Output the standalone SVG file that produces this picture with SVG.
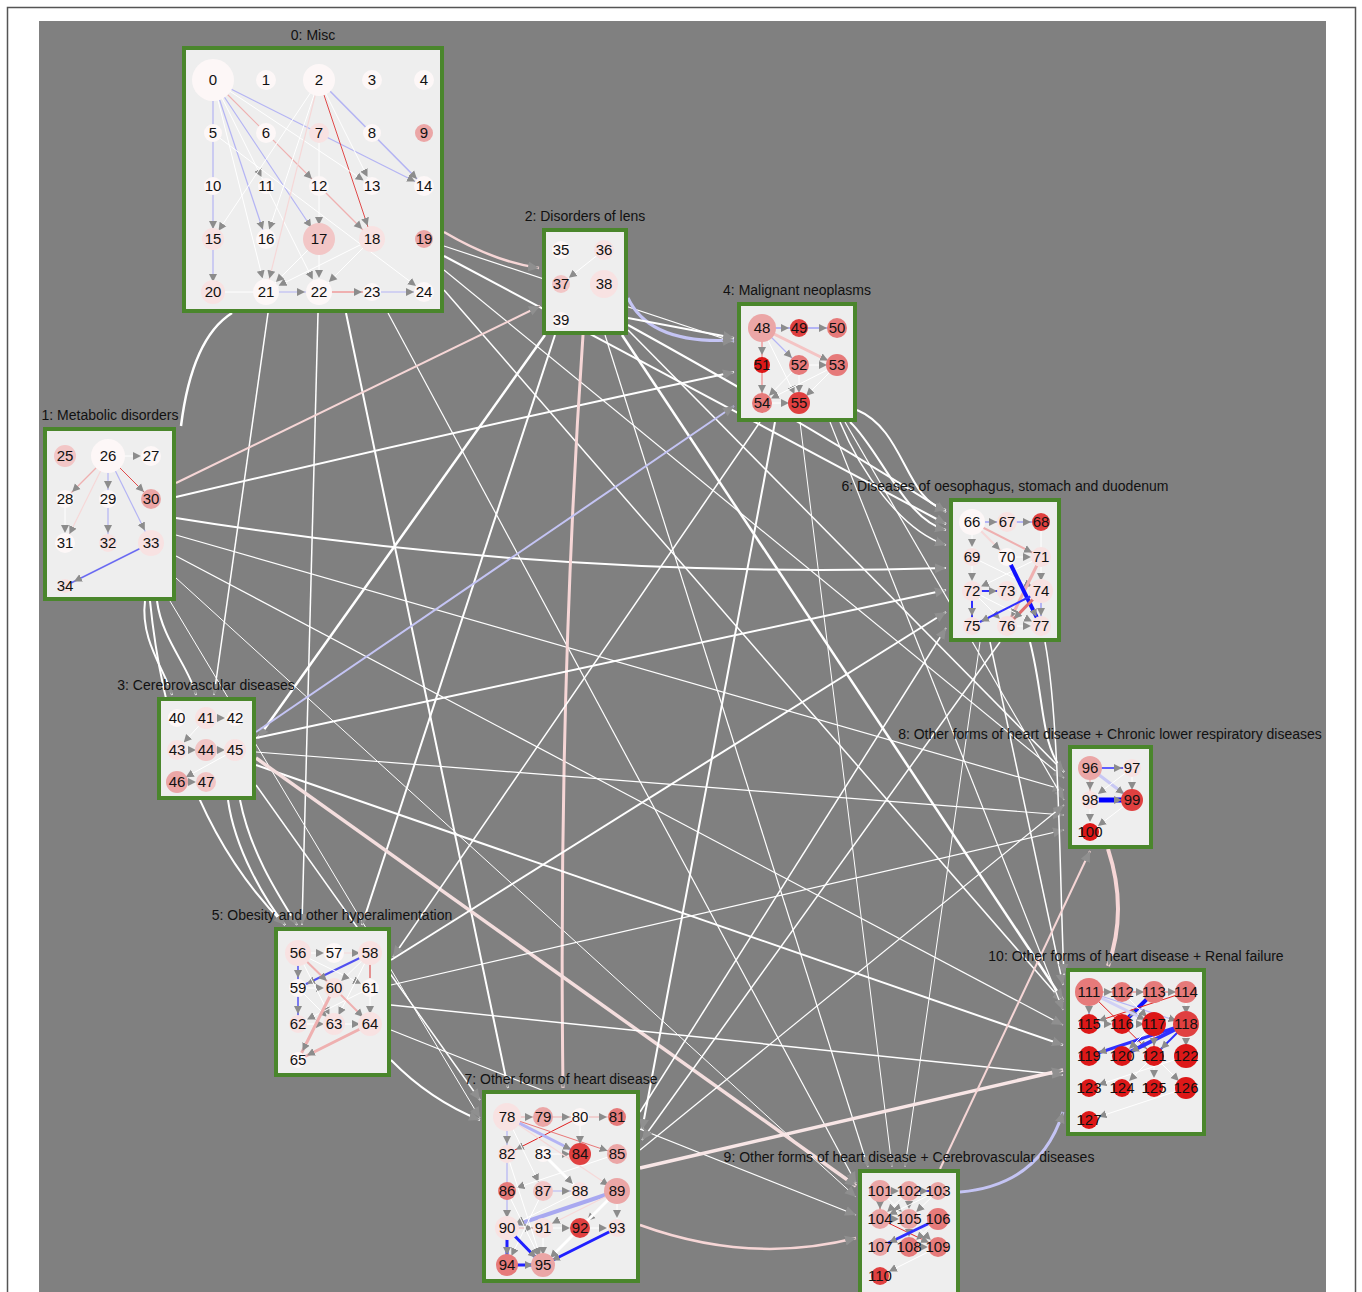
<svg xmlns="http://www.w3.org/2000/svg" width="1362" height="1292" viewBox="0 0 1362 1292">
<style>
text{font-family:"Liberation Sans",Arial,sans-serif;fill:#111}
.nt text{font-size:15px;text-anchor:middle}
.lbl{font-size:14px;text-anchor:middle}
.box{fill:#eeeeee;stroke:#4a862c;stroke-width:4}
.c0{fill:#fdf7f7}.c1{fill:#f8e2e2}.c2{fill:#f2c6c6}.c3{fill:#eba6a6}.c4{fill:#e67a7a}.c5{fill:#e04040}.c6{fill:#dd1818}
.w{stroke:#ffffff;stroke-width:1;fill:none}
.lv{stroke:#b4b4f4;stroke-width:1.2;fill:none}
.pk{stroke:#efb0b0;stroke-width:1.2;fill:none}
.pl{stroke:#f6d8d8;stroke-width:1.2;fill:none}
.rd{stroke:#e04a4a;stroke-width:1;fill:none}
.bl{stroke:#3030ff;stroke-width:2;fill:none}
.e{marker-end:url(#a)}
.e2{marker-end:url(#a2)}
.x{stroke:#ffffff;stroke-width:1.5;fill:none;marker-end:url(#b)}
.xp{stroke:#f6d6d6;stroke-width:2.5;fill:none;marker-end:url(#b)}
.xl{stroke:#c4c4f4;stroke-width:2.5;fill:none;marker-end:url(#b)}
</style>
<defs>
<marker id="a" markerUnits="userSpaceOnUse" markerWidth="30" markerHeight="10" viewBox="0 0 30 10" refX="18" refY="5" orient="auto"><path d="M0,1 L8,5 L0,9 z" fill="#8c8c8c"/></marker>
<marker id="a2" markerUnits="userSpaceOnUse" markerWidth="30" markerHeight="10" viewBox="0 0 30 10" refX="22" refY="5" orient="auto"><path d="M0,1 L8,5 L0,9 z" fill="#8c8c8c"/></marker>
<marker id="b" markerUnits="userSpaceOnUse" markerWidth="12" markerHeight="12" viewBox="0 0 12 12" refX="11" refY="6" orient="auto"><path d="M0,1 L11,6 L0,11 z" fill="#8f8f8f"/></marker>
</defs>
<rect x="0" y="0" width="1362" height="1292" fill="#ffffff"/>
<path d="M7.5,1292 V7.5 H1355.5 V1292" fill="none" stroke="#555" stroke-width="1.5"/>
<rect x="39" y="21" width="1287" height="1271" fill="#808080"/>

<g id="connectors">
<path class="xp" d="M444,232 Q495,262 539,268"/>
<path class="x" style="stroke-width:1.2" d="M444,246 L734,342"/>
<path class="x" style="stroke-width:2" d="M444,256 L946,524"/>
<path class="x" style="stroke-width:1.2" d="M444,270 L1064,778"/>
<path class="x" d="M444,290 L1063,1002"/>
<path d="M232,313 C205,330 188,370 181,426" fill="none" stroke="#fff" stroke-width="2.5"/>
<path class="x" d="M268,313 L214,695"/>
<path class="x" d="M318,313 L302,925"/>
<path class="x" style="stroke-width:2" d="M346,313 L508,1088"/>
<path class="x" style="stroke-width:1.2" d="M388,313 L856,1183"/>
<path class="xp" style="stroke-width:2" d="M176,483 L540,306"/>
<path class="x" style="stroke-width:2" d="M176,497 Q460,430 734,372"/>
<path class="x" style="stroke-width:2" d="M176,518 Q560,580 946,568"/>
<path class="x" style="stroke-width:1.2" d="M176,535 L1064,790"/>
<path class="x" style="stroke-width:1.2" d="M176,556 L1063,1025"/>
<path class="x" style="stroke-width:2" d="M145,601 C140,640 165,670 172,695"/>
<path class="x" style="stroke-width:2" d="M157,601 C162,640 190,668 196,695"/>
<path class="x" style="stroke-width:2" d="M150,601 C170,800 250,890 285,925"/>
<path class="x" style="stroke-width:1" d="M176,578 L856,1197"/>
<path class="x" style="stroke-width:1" d="M170,601 L480,1118"/>
<path class="xp" style="stroke-width:3" d="M583,335 Q558,700 563,1088"/>
<path class="xl" style="stroke-width:3" d="M628,298 Q650,345 734,340"/>
<path class="x" style="stroke-width:2" d="M628,318 L734,338"/>
<path class="x" style="stroke-width:2.5" d="M545,335 L258,738"/>
<path class="x" style="stroke-width:2" d="M555,335 L362,925"/>
<path class="x" style="stroke-width:2" d="M628,325 Q800,420 946,512"/>
<path class="x" d="M628,330 L1064,772"/>
<path class="x" style="stroke-width:2.5" d="M622,335 L1063,1000"/>
<path class="x" style="stroke-width:1.2" d="M605,335 L868,1167"/>
<path class="xl" style="stroke-width:2" d="M256,732 L734,406"/>
<path class="x" style="stroke-width:2" d="M256,738 L946,590"/>
<path class="x" style="stroke-width:1.2" d="M256,752 L1064,815"/>
<path class="x" style="stroke-width:2" d="M256,765 L1063,1045"/>
<path class="xp" style="stroke-width:3.5;stroke:#f4dede" d="M256,758 L856,1186"/>
<path class="x" style="stroke-width:2" d="M228,800 C235,850 265,900 285,925"/>
<path class="x" style="stroke-width:2" d="M240,800 C250,850 275,890 297,925"/>
<path class="x" d="M256,785 L480,1100"/>
<path class="x" style="stroke-width:2" d="M775,422 L642,1130"/>
<path class="x" d="M760,422 L393,957"/>
<path class="x" style="stroke-width:1" d="M800,422 L892,1167"/>
<path class="x" style="stroke-width:1.2" d="M830,422 L1063,1010"/>
<path class="x" style="stroke-width:1.2" d="M845,422 L1064,800"/>
<path class="x" style="stroke-width:2" d="M857,410 C905,430 905,500 946,510"/>
<path class="x" style="stroke-width:2" d="M850,422 C880,450 905,520 946,530"/>
<path class="x" d="M840,422 C860,470 900,530 946,545"/>
<path class="x" style="stroke-width:2" d="M391,960 L946,612"/>
<path class="x" style="stroke-width:1.2" d="M391,985 L1064,830"/>
<path class="x" d="M391,1005 L1063,1075"/>
<path class="x" style="stroke-width:1.2" d="M391,1030 L856,1215"/>
<path class="x" style="stroke-width:2" d="M391,1060 Q430,1100 480,1120"/>
<path class="x" d="M990,642 L1063,985"/>
<path class="x" d="M1000,642 L642,1140"/>
<path class="x" style="stroke-width:2" d="M1030,642 C1045,700 1040,745 1064,772"/>
<path class="x" d="M1045,642 C1060,720 1060,900 1064,975"/>
<path class="x" style="stroke-width:1" d="M980,642 L905,1167"/>
<path class="xp" style="stroke-width:3.5;stroke:#f8e6e6" d="M640,1168 L1063,1070"/>
<path class="xp" d="M640,1225 Q750,1265 856,1238"/>
<path class="x" d="M640,1112 L946,628"/>
<path class="x" style="stroke-width:1.2" d="M640,1150 L1064,805"/>
<path class="xp" style="stroke-width:4" d="M1108,849 Q1128,910 1108,966"/>
<path class="xp" style="stroke-width:2" d="M940,1169 L1090,851"/>
<path class="xl" style="stroke-width:3" d="M960,1192 Q1040,1185 1063,1112"/>
</g>

<g id="cluster-0">
<text class="lbl" x="313" y="40">0: Misc</text>
<rect class="box" x="184" y="48" width="258" height="263"/>
<line class="lv e" x1="213" y1="80" x2="213" y2="239"/>
<line class="lv e" x1="213" y1="239" x2="213" y2="292"/>
<line class="lv e" x1="213" y1="80" x2="424" y2="186"/>
<line class="lv e" style="stroke-width:1.6" x1="319" y1="80" x2="424" y2="186"/>
<line class="rd e2" x1="319" y1="80" x2="372" y2="239"/>
<line class="pk e" x1="213" y1="80" x2="319" y2="186"/>
<line class="lv e" x1="213" y1="80" x2="266" y2="239"/>
<line class="lv e2" x1="213" y1="80" x2="319" y2="239"/>
<line class="w e" x1="213" y1="80" x2="372" y2="186"/>
<line class="w e2" x1="213" y1="80" x2="266" y2="292"/>
<line class="w e" x1="213" y1="80" x2="266" y2="186"/>
<line class="w e" x1="213" y1="133" x2="424" y2="292"/>
<line class="w e2" x1="266" y1="186" x2="319" y2="292"/>
<line class="w e" x1="319" y1="80" x2="213" y2="239"/>
<line class="w e" x1="319" y1="80" x2="266" y2="239"/>
<line class="pl e2" x1="319" y1="80" x2="266" y2="292"/>
<line class="w e" x1="319" y1="80" x2="372" y2="186"/>
<line class="w e2" x1="319" y1="133" x2="319" y2="239"/>
<line class="pk e2" x1="319" y1="186" x2="372" y2="239"/>
<line class="w e2" x1="319" y1="239" x2="266" y2="292"/>
<line class="w e2" x1="319" y1="239" x2="319" y2="292"/>
<line class="w e2" x1="372" y1="239" x2="266" y2="292"/>
<line class="w e2" x1="372" y1="239" x2="319" y2="292"/>
<line class="w" x1="213" y1="292" x2="266" y2="292"/>
<line class="lv e2" x1="266" y1="292" x2="319" y2="292"/>
<line class="pk e" style="stroke-width:2" x1="319" y1="292" x2="372" y2="292"/>
<line class="lv e" x1="372" y1="292" x2="424" y2="292"/>
<g class="nt">
<g id="n0"><circle class="c0" cx="213" cy="80" r="21"/><text x="213" y="85">0</text></g>
<g id="n1"><circle class="c0" cx="266" cy="80" r="10"/><text x="266" y="85">1</text></g>
<g id="n2"><circle class="c0" cx="319" cy="80" r="16"/><text x="319" y="85">2</text></g>
<g id="n3"><circle class="c0" cx="372" cy="80" r="10"/><text x="372" y="85">3</text></g>
<g id="n4"><circle class="c0" cx="424" cy="80" r="10"/><text x="424" y="85">4</text></g>
<g id="n5"><circle class="c0" cx="213" cy="133" r="9"/><text x="213" y="138">5</text></g>
<g id="n6"><circle class="c0" cx="266" cy="133" r="10"/><text x="266" y="138">6</text></g>
<g id="n7"><circle class="c1" cx="319" cy="133" r="10"/><text x="319" y="138">7</text></g>
<g id="n8"><circle class="c0" cx="372" cy="133" r="9"/><text x="372" y="138">8</text></g>
<g id="n9"><circle class="c3" cx="424" cy="133" r="9"/><text x="424" y="138">9</text></g>
<g id="n10"><circle class="c0" cx="213" cy="186" r="9"/><text x="213" y="191">10</text></g>
<g id="n11"><circle class="c0" cx="266" cy="186" r="8"/><text x="266" y="191">11</text></g>
<g id="n12"><circle class="c0" cx="319" cy="186" r="10"/><text x="319" y="191">12</text></g>
<g id="n13"><circle class="c0" cx="372" cy="186" r="9"/><text x="372" y="191">13</text></g>
<g id="n14"><circle class="c0" cx="424" cy="186" r="10"/><text x="424" y="191">14</text></g>
<g id="n15"><circle class="c1" cx="213" cy="239" r="11"/><text x="213" y="244">15</text></g>
<g id="n16"><circle class="c0" cx="266" cy="239" r="10"/><text x="266" y="244">16</text></g>
<g id="n17"><circle class="c2" cx="319" cy="239" r="16"/><text x="319" y="244">17</text></g>
<g id="n18"><circle class="c1" cx="372" cy="239" r="13"/><text x="372" y="244">18</text></g>
<g id="n19"><circle class="c3" cx="424" cy="239" r="9"/><text x="424" y="244">19</text></g>
<g id="n20"><circle class="c1" cx="213" cy="292" r="12"/><text x="213" y="297">20</text></g>
<g id="n21"><circle class="c0" cx="266" cy="292" r="13"/><text x="266" y="297">21</text></g>
<g id="n22"><circle class="c0" cx="319" cy="292" r="13"/><text x="319" y="297">22</text></g>
<g id="n23"><circle class="c0" cx="372" cy="292" r="9"/><text x="372" y="297">23</text></g>
<g id="n24"><circle class="c0" cx="424" cy="292" r="10"/><text x="424" y="297">24</text></g>
</g>
</g>

<g id="cluster-1">
<text class="lbl" x="110" y="420">1: Metabolic disorders</text>
<rect class="box" x="45" y="429" width="129" height="170"/>
<line class="w e" x1="108" y1="456" x2="151" y2="456"/>
<line class="pk e" x1="108" y1="456" x2="65" y2="499"/>
<line class="lv e" x1="108" y1="456" x2="108" y2="499"/>
<line class="rd e" x1="108" y1="456" x2="151" y2="499"/>
<line class="pl e" x1="108" y1="456" x2="65" y2="543"/>
<line class="lv e2" x1="108" y1="456" x2="151" y2="543"/>
<line class="w e" x1="65" y1="499" x2="65" y2="543"/>
<line class="lv e" x1="108" y1="499" x2="108" y2="543"/>
<line class="bl e" style="stroke:#6a6af2;stroke-width:1.5" x1="151" y1="543" x2="65" y2="586"/>
<g class="nt">
<g id="n25"><circle class="c2" cx="65" cy="456" r="11"/><text x="65" y="461">25</text></g>
<g id="n26"><circle class="c0" cx="108" cy="456" r="17"/><text x="108" y="461">26</text></g>
<g id="n27"><circle class="c0" cx="151" cy="456" r="10"/><text x="151" y="461">27</text></g>
<g id="n28"><circle class="c0" cx="65" cy="499" r="9"/><text x="65" y="504">28</text></g>
<g id="n29"><circle class="c0" cx="108" cy="499" r="9"/><text x="108" y="504">29</text></g>
<g id="n30"><circle class="c3" cx="151" cy="499" r="10"/><text x="151" y="504">30</text></g>
<g id="n31"><circle class="c0" cx="65" cy="543" r="10"/><text x="65" y="548">31</text></g>
<g id="n32"><circle class="c1" cx="108" cy="543" r="9"/><text x="108" y="548">32</text></g>
<g id="n33"><circle class="c1" cx="151" cy="543" r="13"/><text x="151" y="548">33</text></g>
<g id="n34"><circle class="c1" cx="65" cy="586" r="7"/><text x="65" y="591">34</text></g>
</g>
</g>

<g id="cluster-2">
<text class="lbl" x="585" y="221">2: Disorders of lens</text>
<rect class="box" x="544" y="230" width="82" height="103"/>
<line class="w e" x1="604" y1="250" x2="561" y2="284"/>
<g class="nt">
<g id="n35"><circle class="c0" cx="561" cy="250" r="9"/><text x="561" y="255">35</text></g>
<g id="n36"><circle class="c1" cx="604" cy="250" r="10"/><text x="604" y="255">36</text></g>
<g id="n37"><circle class="c2" cx="561" cy="284" r="9"/><text x="561" y="289">37</text></g>
<g id="n38"><circle class="c1" cx="604" cy="284" r="14"/><text x="604" y="289">38</text></g>
<g id="n39"><circle class="c0" cx="561" cy="320" r="8"/><text x="561" y="325">39</text></g>
</g>
</g>

<g id="cluster-3">
<text class="lbl" x="206" y="690">3: Cerebrovascular diseases</text>
<rect class="box" x="159" y="699" width="95" height="99"/>
<line class="w e" x1="206" y1="718" x2="235" y2="718"/>
<line class="w e" x1="206" y1="718" x2="177" y2="750"/>
<line class="w e" x1="177" y1="750" x2="206" y2="750"/>
<line class="w e" x1="206" y1="750" x2="235" y2="750"/>
<line class="w e" x1="235" y1="750" x2="177" y2="782"/>
<line class="w e" x1="177" y1="782" x2="206" y2="782"/>
<g class="nt">
<g id="n40"><circle class="c0" cx="177" cy="718" r="9"/><text x="177" y="723">40</text></g>
<g id="n41"><circle class="c1" cx="206" cy="718" r="11"/><text x="206" y="723">41</text></g>
<g id="n42"><circle class="c0" cx="235" cy="718" r="8"/><text x="235" y="723">42</text></g>
<g id="n43"><circle class="c1" cx="177" cy="750" r="10"/><text x="177" y="755">43</text></g>
<g id="n44"><circle class="c2" cx="206" cy="750" r="11"/><text x="206" y="755">44</text></g>
<g id="n45"><circle class="c1" cx="235" cy="750" r="11"/><text x="235" y="755">45</text></g>
<g id="n46"><circle class="c3" cx="177" cy="782" r="11"/><text x="177" y="787">46</text></g>
<g id="n47"><circle class="c2" cx="206" cy="782" r="10"/><text x="206" y="787">47</text></g>
</g>
</g>

<g id="cluster-4">
<text class="lbl" x="797" y="295">4: Malignant neoplasms</text>
<rect class="box" x="739" y="304" width="116" height="116"/>
<line class="lv e" style="stroke-width:2" x1="762" y1="328" x2="799" y2="328"/>
<line class="lv e" style="stroke-width:2" x1="799" y1="328" x2="837" y2="328"/>
<line class="pk e" style="stroke-width:2" x1="762" y1="328" x2="762" y2="365"/>
<line class="lv e" x1="762" y1="328" x2="799" y2="365"/>
<line class="pk e" style="stroke-width:3;stroke:#f4c4c4" x1="762" y1="328" x2="837" y2="365"/>
<line class="pk e" style="stroke-width:2" x1="762" y1="365" x2="762" y2="403"/>
<line class="w e" x1="799" y1="365" x2="837" y2="365"/>
<line class="w e" x1="762" y1="328" x2="799" y2="403"/>
<line class="w e" x1="799" y1="365" x2="799" y2="403"/>
<line class="w e" x1="837" y1="365" x2="799" y2="403"/>
<line class="w e" x1="837" y1="365" x2="762" y2="403"/>
<line class="w e" x1="799" y1="365" x2="762" y2="403"/>
<line class="w e" x1="762" y1="403" x2="799" y2="403"/>
<g class="nt">
<g id="n48"><circle class="c3" cx="762" cy="328" r="14"/><text x="762" y="333">48</text></g>
<g id="n49"><circle class="c5" cx="799" cy="328" r="9"/><text x="799" y="333">49</text></g>
<g id="n50"><circle class="c4" cx="837" cy="328" r="10"/><text x="837" y="333">50</text></g>
<g id="n51"><circle class="c6" cx="762" cy="365" r="8"/><text x="762" y="370">51</text></g>
<g id="n52"><circle class="c4" cx="799" cy="365" r="10"/><text x="799" y="370">52</text></g>
<g id="n53"><circle class="c4" cx="837" cy="365" r="11"/><text x="837" y="370">53</text></g>
<g id="n54"><circle class="c4" cx="762" cy="403" r="10"/><text x="762" y="408">54</text></g>
<g id="n55"><circle class="c5" cx="799" cy="403" r="11"/><text x="799" y="408">55</text></g>
</g>
</g>

<g id="cluster-5">
<text class="lbl" x="332" y="920">5: Obesity and other hyperalimentation</text>
<rect class="box" x="276" y="929" width="113" height="146"/>
<line class="w e" x1="298" y1="953" x2="334" y2="953"/>
<line class="pl e" x1="334" y1="953" x2="370" y2="953"/>
<line class="bl e" style="stroke:#5050f0;stroke-width:1.5" x1="298" y1="953" x2="298" y2="988"/>
<line class="bl e" style="stroke:#5050f0;stroke-width:2" x1="370" y1="953" x2="298" y2="988"/>
<line class="pk e" style="stroke-width:2" x1="298" y1="953" x2="334" y2="988"/>
<line class="w e" x1="298" y1="953" x2="370" y2="988"/>
<line class="w e" x1="370" y1="953" x2="334" y2="988"/>
<line class="rd" style="stroke:#e07070;stroke-width:1.5" x1="370" y1="953" x2="370" y2="978"/>
<line class="w e" x1="298" y1="988" x2="334" y2="988"/>
<line class="bl e" style="stroke:#5050f0;stroke-width:1.5" x1="298" y1="988" x2="298" y2="1024"/>
<line class="w e" x1="298" y1="953" x2="334" y2="1024"/>
<line class="w e" x1="370" y1="953" x2="334" y2="1024"/>
<line class="w e" x1="298" y1="988" x2="334" y2="1024"/>
<line class="w e" x1="370" y1="988" x2="298" y2="1024"/>
<line class="w e" x1="370" y1="988" x2="370" y2="1024"/>
<line class="w e" x1="298" y1="1024" x2="334" y2="1024"/>
<line class="w e" x1="334" y1="1024" x2="370" y2="1024"/>
<line class="pk e" style="stroke-width:2" x1="334" y1="988" x2="370" y2="1024"/>
<line class="pk e" style="stroke-width:3" x1="334" y1="988" x2="298" y2="1060"/>
<line class="pk e" style="stroke-width:3" x1="370" y1="1024" x2="298" y2="1060"/>
<g class="nt">
<g id="n56"><circle class="c1" cx="298" cy="953" r="13"/><text x="298" y="958">56</text></g>
<g id="n57"><circle class="c0" cx="334" cy="953" r="10"/><text x="334" y="958">57</text></g>
<g id="n58"><circle class="c1" cx="370" cy="953" r="12"/><text x="370" y="958">58</text></g>
<g id="n59"><circle class="c0" cx="298" cy="988" r="9"/><text x="298" y="993">59</text></g>
<g id="n60"><circle class="c1" cx="334" cy="988" r="10"/><text x="334" y="993">60</text></g>
<g id="n61"><circle class="c0" cx="370" cy="988" r="9"/><text x="370" y="993">61</text></g>
<g id="n62"><circle class="c1" cx="298" cy="1024" r="9"/><text x="298" y="1029">62</text></g>
<g id="n63"><circle class="c1" cx="334" cy="1024" r="11"/><text x="334" y="1029">63</text></g>
<g id="n64"><circle class="c1" cx="370" cy="1024" r="12"/><text x="370" y="1029">64</text></g>
<g id="n65"><circle class="c0" cx="298" cy="1060" r="8"/><text x="298" y="1065">65</text></g>
</g>
</g>

<g id="cluster-6">
<text class="lbl" x="1005" y="491">6: Diseases of oesophagus, stomach and duodenum</text>
<rect class="box" x="951" y="500" width="108" height="140"/>
<line class="lv e" style="stroke-width:2" x1="972" y1="522" x2="1007" y2="522"/>
<line class="lv e" style="stroke-width:2" x1="1007" y1="522" x2="1041" y2="522"/>
<line class="w e" x1="972" y1="522" x2="972" y2="557"/>
<line class="pl e" style="stroke-width:2" x1="972" y1="522" x2="1007" y2="557"/>
<line class="pk e" style="stroke-width:2" x1="972" y1="522" x2="1041" y2="557"/>
<line class="w" x1="1041" y1="522" x2="1041" y2="557"/>
<line class="w e" x1="1007" y1="557" x2="1041" y2="557"/>
<line class="w e" x1="972" y1="557" x2="972" y2="591"/>
<line class="w e" x1="972" y1="557" x2="1041" y2="591"/>
<line class="w e" x1="1041" y1="557" x2="972" y2="591"/>
<line class="w e" x1="1041" y1="557" x2="1041" y2="591"/>
<line class="pk e" style="stroke-width:3" x1="1041" y1="557" x2="1007" y2="626"/>
<line class="w e" x1="972" y1="591" x2="1007" y2="626"/>
<line class="w e" x1="972" y1="591" x2="1041" y2="626"/>
<line class="bl e" style="stroke-width:4;stroke:#1010ff" x1="1007" y1="557" x2="1041" y2="626"/>
<line class="bl e" x1="972" y1="591" x2="1007" y2="591"/>
<line class="bl e" x1="972" y1="591" x2="972" y2="626"/>
<line class="bl e" x1="1041" y1="591" x2="972" y2="626"/>
<line class="rd e" style="stroke-width:3;stroke:#e07070" x1="1041" y1="591" x2="1007" y2="626"/>
<line class="lv e" style="stroke-width:2" x1="1041" y1="591" x2="1041" y2="626"/>
<line class="w e" x1="1007" y1="626" x2="1041" y2="626"/>
<g class="nt">
<g id="n66"><circle class="c0" cx="972" cy="522" r="13"/><text x="972" y="527">66</text></g>
<g id="n67"><circle class="c1" cx="1007" cy="522" r="10"/><text x="1007" y="527">67</text></g>
<g id="n68"><circle class="c5" cx="1041" cy="522" r="9"/><text x="1041" y="527">68</text></g>
<g id="n69"><circle class="c1" cx="972" cy="557" r="9"/><text x="972" y="562">69</text></g>
<g id="n70"><circle class="c0" cx="1007" cy="557" r="9"/><text x="1007" y="562">70</text></g>
<g id="n71"><circle class="c1" cx="1041" cy="557" r="10"/><text x="1041" y="562">71</text></g>
<g id="n72"><circle class="c1" cx="972" cy="591" r="10"/><text x="972" y="596">72</text></g>
<g id="n73"><circle class="c1" cx="1007" cy="591" r="10"/><text x="1007" y="596">73</text></g>
<g id="n74"><circle class="c1" cx="1041" cy="591" r="12"/><text x="1041" y="596">74</text></g>
<g id="n75"><circle class="c1" cx="972" cy="626" r="9"/><text x="972" y="631">75</text></g>
<g id="n76"><circle class="c1" cx="1007" cy="626" r="10"/><text x="1007" y="631">76</text></g>
<g id="n77"><circle class="c1" cx="1041" cy="626" r="10"/><text x="1041" y="631">77</text></g>
</g>
</g>

<g id="cluster-7">
<text class="lbl" x="561" y="1084">7: Other forms of heart disease</text>
<rect class="box" x="484" y="1092" width="154" height="189"/>
<line class="pk e" x1="507" y1="1117" x2="543" y2="1117"/>
<line class="pk e" x1="543" y1="1117" x2="580" y2="1117"/>
<line class="pk e" x1="580" y1="1117" x2="617" y2="1117"/>
<line class="rd e" style="stroke:#e02020" x1="580" y1="1117" x2="507" y2="1154"/>
<line class="lv e" x1="507" y1="1117" x2="507" y2="1154"/>
<line class="lv e" style="stroke-width:3" x1="507" y1="1117" x2="580" y2="1154"/>
<line class="rd e" style="stroke:#e87878" x1="507" y1="1117" x2="617" y2="1154"/>
<line class="w e" x1="580" y1="1117" x2="580" y2="1154"/>
<line class="w e" x1="543" y1="1154" x2="580" y2="1154"/>
<line class="w e" style="stroke-width:3" x1="543" y1="1154" x2="580" y2="1191"/>
<line class="lv e" x1="543" y1="1191" x2="580" y2="1191"/>
<line class="w e" x1="507" y1="1117" x2="543" y2="1191"/>
<line class="w e" x1="617" y1="1154" x2="507" y2="1191"/>
<line class="pl e" x1="507" y1="1117" x2="617" y2="1191"/>
<line class="lv e" style="stroke-width:4;stroke:#a8a8f0" x1="617" y1="1191" x2="507" y2="1228"/>
<line class="lv e" x1="507" y1="1154" x2="507" y2="1228"/>
<line class="w e" x1="580" y1="1191" x2="507" y2="1228"/>
<line class="pk e" x1="507" y1="1228" x2="543" y2="1228"/>
<line class="pl e" x1="617" y1="1191" x2="543" y2="1228"/>
<line class="w e" x1="543" y1="1228" x2="580" y2="1228"/>
<line class="w e" x1="580" y1="1228" x2="617" y2="1228"/>
<line class="w e" x1="617" y1="1191" x2="617" y2="1228"/>
<line class="w e" x1="617" y1="1191" x2="580" y2="1228"/>
<line class="w e" x1="507" y1="1154" x2="543" y2="1265"/>
<line class="w e" x1="507" y1="1191" x2="543" y2="1265"/>
<line class="w e" x1="543" y1="1191" x2="507" y2="1265"/>
<line class="w e" x1="543" y1="1228" x2="543" y2="1265"/>
<line class="w e" style="stroke-width:3" x1="617" y1="1191" x2="543" y2="1265"/>
<line class="bl e" style="stroke-width:3;stroke:#2020ff" x1="507" y1="1228" x2="507" y2="1265"/>
<line class="bl e" style="stroke-width:3;stroke:#2020ff" x1="507" y1="1228" x2="543" y2="1265"/>
<line class="bl e" style="stroke-width:3;stroke:#2020ff" x1="507" y1="1265" x2="543" y2="1265"/>
<line class="bl e" style="stroke-width:3;stroke:#2020ff" x1="617" y1="1228" x2="543" y2="1265"/>
<g class="nt">
<g id="n78"><circle class="c1" cx="507" cy="1117" r="14"/><text x="507" y="1122">78</text></g>
<g id="n79"><circle class="c3" cx="543" cy="1117" r="10"/><text x="543" y="1122">79</text></g>
<g id="n80"><circle class="c0" cx="580" cy="1117" r="9"/><text x="580" y="1122">80</text></g>
<g id="n81"><circle class="c4" cx="617" cy="1117" r="9"/><text x="617" y="1122">81</text></g>
<g id="n82"><circle class="c1" cx="507" cy="1154" r="9"/><text x="507" y="1159">82</text></g>
<g id="n83"><circle class="c0" cx="543" cy="1154" r="8"/><text x="543" y="1159">83</text></g>
<g id="n84"><circle class="c5" cx="580" cy="1154" r="11"/><text x="580" y="1159">84</text></g>
<g id="n85"><circle class="c3" cx="617" cy="1154" r="10"/><text x="617" y="1159">85</text></g>
<g id="n86"><circle class="c4" cx="507" cy="1191" r="9"/><text x="507" y="1196">86</text></g>
<g id="n87"><circle class="c2" cx="543" cy="1191" r="10"/><text x="543" y="1196">87</text></g>
<g id="n88"><circle class="c1" cx="580" cy="1191" r="9"/><text x="580" y="1196">88</text></g>
<g id="n89"><circle class="c3" cx="617" cy="1191" r="13"/><text x="617" y="1196">89</text></g>
<g id="n90"><circle class="c1" cx="507" cy="1228" r="12"/><text x="507" y="1233">90</text></g>
<g id="n91"><circle class="c1" cx="543" cy="1228" r="10"/><text x="543" y="1233">91</text></g>
<g id="n92"><circle class="c5" cx="580" cy="1228" r="10"/><text x="580" y="1233">92</text></g>
<g id="n93"><circle class="c1" cx="617" cy="1228" r="9"/><text x="617" y="1233">93</text></g>
<g id="n94"><circle class="c4" cx="507" cy="1265" r="11"/><text x="507" y="1270">94</text></g>
<g id="n95"><circle class="c3" cx="543" cy="1265" r="12"/><text x="543" y="1270">95</text></g>
</g>
</g>

<g id="cluster-8">
<text class="lbl" x="1110" y="739">8: Other forms of heart disease + Chronic lower respiratory diseases</text>
<rect class="box" x="1070" y="747" width="81" height="100"/>
<line class="bl e" style="stroke:#6060ff" x1="1090" y1="768" x2="1132" y2="768"/>
<line class="pk e" x1="1090" y1="768" x2="1090" y2="800"/>
<line class="lv e" style="stroke-width:3;stroke:#c8c8f4" x1="1090" y1="768" x2="1132" y2="800"/>
<line class="w e" x1="1132" y1="768" x2="1090" y2="800"/>
<line class="w e" x1="1132" y1="768" x2="1132" y2="800"/>
<line class="bl e" style="stroke-width:5;stroke:#0000ff" x1="1090" y1="800" x2="1132" y2="800"/>
<line class="w e" x1="1090" y1="800" x2="1090" y2="832"/>
<line class="w e" x1="1132" y1="800" x2="1090" y2="832"/>
<g class="nt">
<g id="n96"><circle class="c3" cx="1090" cy="768" r="12"/><text x="1090" y="773">96</text></g>
<g id="n97"><circle class="c1" cx="1132" cy="768" r="9"/><text x="1132" y="773">97</text></g>
<g id="n98"><circle class="c1" cx="1090" cy="800" r="9"/><text x="1090" y="805">98</text></g>
<g id="n99"><circle class="c5" cx="1132" cy="800" r="11"/><text x="1132" y="805">99</text></g>
<g id="n100"><circle class="c6" cx="1090" cy="832" r="9"/><text x="1090" y="837">100</text></g>
</g>
</g>

<g id="cluster-9">
<text class="lbl" x="909" y="1162">9: Other forms of heart disease + Cerebrovascular diseases</text>
<rect class="box" x="860" y="1171" width="98" height="125"/>
<line class="w e" x1="880" y1="1191" x2="909" y2="1191"/>
<line class="bl e" x1="909" y1="1191" x2="938" y2="1191"/>
<line class="rd e" x1="880" y1="1191" x2="880" y2="1219"/>
<line class="w e" x1="880" y1="1191" x2="909" y2="1219"/>
<line class="w e" x1="909" y1="1191" x2="909" y2="1219"/>
<line class="w e" x1="909" y1="1191" x2="880" y2="1219"/>
<line class="w e" x1="938" y1="1191" x2="909" y2="1219"/>
<line class="w e" x1="938" y1="1191" x2="880" y2="1219"/>
<line class="w e" x1="880" y1="1219" x2="909" y2="1219"/>
<line class="rd e" style="stroke:#e03030" x1="880" y1="1219" x2="938" y2="1247"/>
<line class="w e" x1="909" y1="1219" x2="909" y2="1247"/>
<line class="w e" x1="909" y1="1219" x2="938" y2="1247"/>
<line class="w e" x1="938" y1="1219" x2="909" y2="1247"/>
<line class="bl e" style="stroke-width:3" x1="938" y1="1219" x2="880" y2="1247"/>
<line class="w e" x1="909" y1="1247" x2="938" y2="1247"/>
<line class="w e" x1="938" y1="1247" x2="880" y2="1276"/>
<g class="nt">
<g id="n101"><circle class="c3" cx="880" cy="1191" r="11"/><text x="880" y="1196">101</text></g>
<g id="n102"><circle class="c3" cx="909" cy="1191" r="10"/><text x="909" y="1196">102</text></g>
<g id="n103"><circle class="c3" cx="938" cy="1191" r="9"/><text x="938" y="1196">103</text></g>
<g id="n104"><circle class="c3" cx="880" cy="1219" r="10"/><text x="880" y="1224">104</text></g>
<g id="n105"><circle class="c3" cx="909" cy="1219" r="10"/><text x="909" y="1224">105</text></g>
<g id="n106"><circle class="c4" cx="938" cy="1219" r="11"/><text x="938" y="1224">106</text></g>
<g id="n107"><circle class="c3" cx="880" cy="1247" r="9"/><text x="880" y="1252">107</text></g>
<g id="n108"><circle class="c4" cx="909" cy="1247" r="10"/><text x="909" y="1252">108</text></g>
<g id="n109"><circle class="c4" cx="938" cy="1247" r="10"/><text x="938" y="1252">109</text></g>
<g id="n110"><circle class="c5" cx="880" cy="1276" r="9"/><text x="880" y="1281">110</text></g>
</g>
</g>

<g id="cluster-10">
<text class="lbl" x="1136" y="961">10: Other forms of heart disease + Renal failure</text>
<rect class="box" x="1068" y="970" width="136" height="164"/>
<line class="pk e" style="stroke-width:2" x1="1089" y1="992" x2="1122" y2="992"/>
<line class="pk e" style="stroke-width:2" x1="1122" y1="992" x2="1154" y2="992"/>
<line class="pk e" style="stroke-width:2" x1="1154" y1="992" x2="1186" y2="992"/>
<line class="lv e" style="stroke-width:2" x1="1089" y1="992" x2="1089" y2="1024"/>
<line class="bl e" style="stroke-width:4;stroke:#1010ff" x1="1154" y1="992" x2="1122" y2="1024"/>
<line class="rd e" style="stroke:#e02020" x1="1186" y1="992" x2="1089" y2="1024"/>
<line class="lv e" style="stroke-width:3;stroke:#d0d0f6" x1="1089" y1="992" x2="1154" y2="1024"/>
<line class="lv e" x1="1089" y1="992" x2="1186" y2="1024"/>
<line class="rd e" style="stroke:#e02020" x1="1089" y1="992" x2="1154" y2="1056"/>
<line class="w e" x1="1186" y1="992" x2="1186" y2="1024"/>
<line class="w e" x1="1122" y1="992" x2="1154" y2="1024"/>
<line class="w e" x1="1089" y1="1024" x2="1122" y2="1024"/>
<line class="w e" x1="1122" y1="1024" x2="1154" y2="1024"/>
<line class="bl e" style="stroke-width:3" x1="1186" y1="1024" x2="1089" y2="1056"/>
<line class="bl e" style="stroke-width:4" x1="1186" y1="1024" x2="1122" y2="1056"/>
<line class="bl e" x1="1186" y1="1024" x2="1154" y2="1056"/>
<line class="w e" x1="1186" y1="1024" x2="1186" y2="1056"/>
<line class="rd e" x1="1154" y1="1024" x2="1154" y2="1056"/>
<line class="w e" x1="1154" y1="1024" x2="1122" y2="1056"/>
<line class="w e" x1="1186" y1="1056" x2="1089" y2="1088"/>
<line class="w e" x1="1154" y1="1056" x2="1154" y2="1088"/>
<line class="w e" x1="1154" y1="1056" x2="1186" y2="1088"/>
<line class="w e" x1="1154" y1="1056" x2="1122" y2="1088"/>
<line class="w e" x1="1186" y1="1088" x2="1089" y2="1120"/>
<g class="nt">
<g id="n111"><circle class="c4" cx="1089" cy="992" r="14"/><text x="1089" y="997">111</text></g>
<g id="n112"><circle class="c4" cx="1122" cy="992" r="10"/><text x="1122" y="997">112</text></g>
<g id="n113"><circle class="c4" cx="1154" cy="992" r="11"/><text x="1154" y="997">113</text></g>
<g id="n114"><circle class="c4" cx="1186" cy="992" r="11"/><text x="1186" y="997">114</text></g>
<g id="n115"><circle class="c6" cx="1089" cy="1024" r="10"/><text x="1089" y="1029">115</text></g>
<g id="n116"><circle class="c6" cx="1122" cy="1024" r="10"/><text x="1122" y="1029">116</text></g>
<g id="n117"><circle class="c6" cx="1154" cy="1024" r="12"/><text x="1154" y="1029">117</text></g>
<g id="n118"><circle class="c5" cx="1186" cy="1024" r="13"/><text x="1186" y="1029">118</text></g>
<g id="n119"><circle class="c6" cx="1089" cy="1056" r="10"/><text x="1089" y="1061">119</text></g>
<g id="n120"><circle class="c6" cx="1122" cy="1056" r="10"/><text x="1122" y="1061">120</text></g>
<g id="n121"><circle class="c6" cx="1154" cy="1056" r="10"/><text x="1154" y="1061">121</text></g>
<g id="n122"><circle class="c6" cx="1186" cy="1056" r="12"/><text x="1186" y="1061">122</text></g>
<g id="n123"><circle class="c6" cx="1089" cy="1088" r="9"/><text x="1089" y="1093">123</text></g>
<g id="n124"><circle class="c6" cx="1122" cy="1088" r="9"/><text x="1122" y="1093">124</text></g>
<g id="n125"><circle class="c6" cx="1154" cy="1088" r="9"/><text x="1154" y="1093">125</text></g>
<g id="n126"><circle class="c6" cx="1186" cy="1088" r="11"/><text x="1186" y="1093">126</text></g>
<g id="n127"><circle class="c6" cx="1089" cy="1120" r="9"/><text x="1089" y="1125">127</text></g>
</g>
</g>
</svg>
